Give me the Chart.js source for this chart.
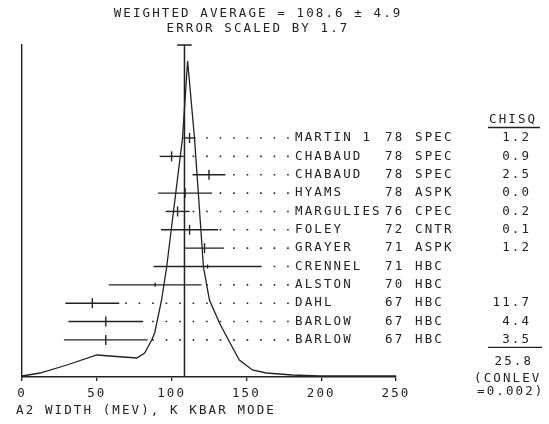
<!DOCTYPE html>
<html>
<head>
<meta charset="utf-8">
<script src="https://cdn.jsdelivr.net/npm/chart.js@4"></script>
<style>
  body { margin: 0; background: #fff; }
  canvas { display: block; }
</style>
</head>
<body>
<canvas id="mycanvas" width="549" height="424"></canvas>
<script>
// 測定値 (A2 width, K Kbar mode)
const names = ['MARTIN 1', 'CHABAUD', 'CHABAUD', 'HYAMS', 'MARGULIES', 'FOLEY', 'GRAYER', 'CRENNEL', 'ALSTON', 'DAHL', 'BARLOW', 'BARLOW'];
const years = ['78', '78', '78', '78', '76', '72', '71', '71', '70', '67', '67', '67'];
const methods = ['SPEC', 'SPEC', 'SPEC', 'ASPK', 'CPEC', 'CNTR', 'ASPK', 'HBC', 'HBC', 'HBC', 'HBC', 'HBC'];
const chisq = ['1.2', '0.9', '2.5', '0.0', '0.2', '0.1', '1.2', '', '', '11.7', '4.4', '3.5'];
const values = [112, 100, 125, 109, 104, 112, 122, 124, 89, 47, 56, 56];
const errors = [4, 8, 11, 18, 8, 19, 13, 36, 31, 18, 25, 28];

const avgValue = 108.6;
const avgError = 4.9;
const chisqTotal = '25.8';
const conlev = '=0.002)';

// アイデオグラム曲線 (絵から読み取り)
const curveX = [0, 12, 30, 50, 58.7, 76.7, 82, 86.7, 88.7, 93.3, 96.7, 107.3, 110.7, 115.3, 121.3, 125.3, 132, 138.7, 145.3, 154, 163.3, 180.7, 198.7, 250];
const curveY = [1, 4, 12, 22, 21, 19, 24, 37, 44, 77, 110, 239, 316, 239, 110, 77, 54, 35, 17, 7, 4, 2, 1, 1];

const xTicks = [0, 50, 100, 150, 200, 250];
const leaderEnd = 178.3;

const ink = '#222';
const font = '"DejaVu Sans Mono", monospace';
const sp = 2.1; // 文字間隔
Chart.defaults.font.family = font;
Chart.defaults.color = ink;

const datasets = [];

// 曲線
datasets.push({
  data: curveX.map((x, i) => ({ x: x, y: curveY[i] })),
  yAxisID: 'y2', borderColor: ink, borderWidth: 1.3, pointRadius: 0, tension: 0
});
// 平均値の線
datasets.push({
  data: [{ x: avgValue, y: 0 }, { x: avgValue, y: 332 }],
  yAxisID: 'y2', borderColor: ink, borderWidth: 1.5, pointRadius: 0, clip: 5
});
datasets.push({
  data: [{ x: avgValue - avgError, y: 332 }, { x: avgValue + avgError, y: 332 }],
  yAxisID: 'y2', borderColor: ink, borderWidth: 1.5, pointRadius: 0, clip: 5
});

// エラーバーと点線
for (let i = 0; i < values.length; i++) {
  datasets.push({
    data: [{ x: values[i] - errors[i], y: i }, { x: values[i] + errors[i], y: i }],
    borderColor: ink, borderWidth: 1.4, pointRadius: 0
  });
  datasets.push({
    data: [{ x: leaderEnd, y: i }, { x: values[i] + errors[i], y: i }],
    borderColor: ink, borderWidth: 1.6, pointRadius: 0, borderDash: [1.6, 11.9]
  });
}
// 中心値の縦線
datasets.push({
  type: 'scatter',
  data: values.map((v, i) => ({ x: v, y: i })),
  pointStyle: 'line', rotation: 90,
  pointRadius: chisq.map(c => c === '' ? 2 : 5),
  borderColor: ink, borderWidth: 1.4
});

// テキスト描画
const textPlugin = {
  id: 'texts',
  beforeDraw(chart) {
    const ctx = chart.ctx;
    ctx.save();
    ctx.fillStyle = '#fff';
    ctx.fillRect(0, 0, chart.width, chart.height);
    ctx.restore();
    ctx.letterSpacing = sp + 'px';
  },
  afterDraw(chart) {
    const ctx = chart.ctx;
    const yRow = chart.scales.y;
    ctx.save();
    ctx.letterSpacing = sp + 'px';
    ctx.font = '12.5px ' + font;
    ctx.fillStyle = ink;
    ctx.strokeStyle = ink;
    ctx.lineWidth = 1.3;
    ctx.textBaseline = 'middle';
    const w = t => ctx.measureText(t).width - sp;
    const center = (t, x, y) => ctx.fillText(t, x - w(t) / 2, y);
    const right = (t, x, y) => ctx.fillText(t, x - w(t), y);

    center('WEIGHTED AVERAGE = ' + avgValue + ' \u00b1 ' + avgError, 257, 14);
    center('ERROR SCALED BY 1.7', 257, 29);

    ctx.fillText('CHISQ', 489, 120);
    ctx.beginPath();
    ctx.moveTo(488, 127.5); ctx.lineTo(540, 127.5);
    ctx.stroke();

    for (let i = 0; i < names.length; i++) {
      const y = yRow.getPixelForValue(i);
      ctx.fillText(names[i], 295, y);
      ctx.fillText(years[i], 385, y);
      ctx.fillText(methods[i], 415, y);
      if (chisq[i] !== '') right(chisq[i], 529, y);
    }
    const yLast = yRow.getPixelForValue(names.length - 1);
    ctx.beginPath();
    ctx.moveTo(488, yLast + 7.5); ctx.lineTo(542, yLast + 7.5);
    ctx.stroke();
    right(chisqTotal, 531, 362);
    ctx.fillText('(CONLEV', 474, 379);
    ctx.fillText(conlev, 477, 392);

    ctx.fillText('A2 WIDTH (MEV), K KBAR MODE', 16, 411);
    ctx.restore();
  }
};

const ctx = document.querySelector('#mycanvas').getContext('2d');
const myChart = new Chart(ctx, {
  type: 'line',
  data: { datasets: datasets },
  options: {
    responsive: false,
    animation: false,
    layout: { padding: { left: 22, right: 153, top: 45, bottom: 18 } },
    plugins: { legend: { display: false }, tooltip: { enabled: false } },
    scales: {
      x: {
        type: 'linear', min: 0, max: 250,
        afterBuildTicks: axis => { axis.ticks = xTicks.map(v => ({ value: v })); },
        ticks: { font: { size: 12.5 }, color: ink, padding: 5, maxRotation: 0 },
        grid: { drawOnChartArea: false, tickLength: 4, color: ink, lineWidth: 1.3 },
        border: { color: ink, width: 1.4 }
      },
      y: {
        type: 'linear', reverse: true, min: -5.068, max: 13.02,
        ticks: { display: false },
        grid: { display: false, drawTicks: false },
        border: { display: true, color: ink, width: 1.4 }
      },
      y2: {
        type: 'linear', min: 0, max: 332, display: false
      }
    }
  },
  plugins: [textPlugin]
});
</script>
</body>
</html>
